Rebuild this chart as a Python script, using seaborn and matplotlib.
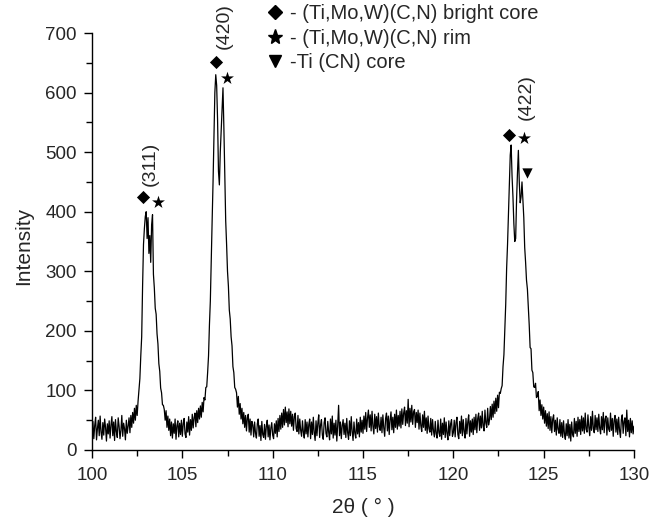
import numpy as np
import pandas as pd
import matplotlib
matplotlib.use("Agg")
import matplotlib.pyplot as plt
from matplotlib.lines import Line2D
from matplotlib.ticker import MultipleLocator
import seaborn as sns

# --- XRD pattern, 2theta from 100 to 130 deg, step 0.05 ---
two_theta = np.round(np.arange(100.0, 130.0001, 0.05), 2)

intensity = [
    # 100-101
    22, 48, 19, 41, 55, 17, 36, 50, 24, 57, 30, 18, 46, 25, 52, 38, 15, 44, 27, 49,
    # 101-102
    20, 42, 56, 24, 47, 16, 51, 31, 21, 54, 40, 19, 33, 58, 23, 45, 36, 17, 50, 28,
    # 102-103  (311)
    40, 54, 29, 58, 38, 63, 45, 70, 50, 75, 58, 82, 100, 120, 158, 190, 275, 345, 372, 392,
    # 103-104
    400, 355, 390, 330, 360, 315, 378, 395, 295, 272, 238, 228, 195, 178, 145, 132, 104, 96, 76, 75,
    # 104-105
    68, 50, 66, 38, 57, 33, 52, 24, 47, 20, 44, 28, 52, 18, 41, 49, 22, 45, 26, 50,
    # 105-106
    23, 44, 53, 27, 21, 47, 30, 56, 25, 51, 33, 60, 37, 54, 62, 39, 66, 46, 70, 52,
    # 106-107  (420)
    74, 55, 80, 64, 88, 84, 105, 106, 130, 158, 210, 250, 320, 385, 450, 525, 600, 630, 612, 555,
    # 107-108
    468, 445, 500, 535, 570, 608, 540, 460, 385, 345, 300, 275, 235, 220, 190, 175, 140, 130, 105, 102,
    # 108-109
    96, 72, 90, 60, 78, 52, 70, 44, 63, 38, 58, 32, 54, 60, 30, 52, 25, 48, 42, 22,
    # 109-110
    47, 28, 20, 44, 52, 23, 41, 16, 48, 26, 21, 43, 18, 40, 50, 22, 42, 17, 37, 46,
    # 110-111
    25, 19, 44, 28, 49, 22, 53, 31, 58, 35, 62, 38, 68, 42, 72, 46, 64, 39, 69, 44,
    # 111-112
    65, 40, 60, 33, 56, 62, 36, 31, 58, 27, 52, 33, 23, 49, 30, 20, 51, 27, 47, 22,
    # 112-113
    43, 52, 19, 47, 26, 55, 29, 16, 49, 24, 45, 59, 21, 42, 51, 25, 18, 46, 54, 28,
    # 113-114
    22, 48, 30, 17, 52, 27, 57, 20, 45, 25, 50, 15, 42, 75, 24, 47, 19, 41, 51, 26,
    # 114-115
    45, 21, 53, 29, 18, 49, 24, 56, 31, 16, 47, 28, 20, 52, 27, 46, 22, 55, 30, 50,
    # 115-116
    28, 57, 35, 63, 31, 54, 67, 38, 59, 32, 65, 40, 27, 60, 36, 56, 30, 62, 39, 33,
    # 116-117
    55, 29, 59, 37, 23, 53, 62, 32, 57, 26, 51, 64, 34, 55, 29, 60, 38, 67, 35, 58,
    # 117-118
    40, 65, 37, 69, 43, 62, 72, 41, 66, 45, 85, 39, 70, 47, 75, 43, 64, 68, 38, 63,
    # 118-119
    46, 67, 35, 62, 41, 31, 59, 38, 65, 33, 54, 28, 57, 36, 30, 53, 25, 51, 32, 22,
    # 119-120
    48, 27, 20, 50, 29, 23, 52, 18, 45, 26, 54, 21, 47, 28, 17, 49, 24, 44, 51, 23,
    # 120-121
    29, 50, 22, 46, 55, 26, 19, 48, 28, 57, 24, 51, 31, 20, 53, 27, 47, 59, 23, 49,
    # 121-122
    30, 52, 26, 55, 34, 60, 29, 53, 62, 33, 57, 37, 65, 40, 32, 67, 45, 38, 70, 42,
    # 122-123  (422)
    50, 73, 51, 77, 55, 82, 61, 87, 65, 92, 71, 97, 95, 103, 108, 140, 160, 205, 245, 305,
    # 123-124
    345, 395, 440, 495, 512, 460, 425, 380, 350, 355, 420, 465, 503, 450, 415, 425, 450, 420, 390, 340,
    # 124-125
    315, 285, 270, 240, 210, 172, 170, 134, 130, 106, 105, 112, 88, 90, 98, 66, 84, 58, 76, 52,
    # 125-126
    72, 45, 66, 40, 61, 36, 64, 33, 56, 29, 52, 59, 31, 50, 25, 54, 35, 28, 51, 23,
    # 126-127
    46, 21, 49, 27, 18, 44, 24, 51, 20, 43, 15, 47, 26, 22, 53, 28, 48, 23, 55, 31,
    # 127-128
    51, 26, 57, 32, 54, 28, 62, 35, 30, 59, 38, 24, 56, 33, 65, 36, 29, 58, 34, 54,
    # 128-129
    31, 60, 37, 27, 56, 34, 63, 29, 52, 57, 25, 54, 35, 31, 62, 33, 53, 23, 50, 58,
    # 129-130
    30, 52, 26, 55, 33, 21, 51, 59, 28, 48, 54, 24, 67, 31, 50, 22, 53, 29, 49, 27,
    40,
]
assert len(intensity) == len(two_theta), (len(intensity), len(two_theta))

# peak phase markers
diamond_x = [102.82, 106.88, 123.10]
diamond_y = [424, 651, 528]
star_x = [103.66, 107.46, 123.90]
star_y = [417, 625, 523]
tri_x = [124.05]
tri_y = [465]

# reflection labels
hkl_labels = ["(311)", "(420)", "(422)"]
hkl_x = [103.2, 107.3, 124.05]
hkl_y = [480, 712, 592]

legend_labels = [
    "- (Ti,Mo,W)(C,N) bright core",
    "- (Ti,Mo,W)(C,N) rim",
    "-Ti (CN) core",
]

df = pd.DataFrame({"two_theta": two_theta, "intensity": intensity})

sns.set_style("ticks")
plt.rcParams["font.family"] = ["Liberation Sans", "DejaVu Sans"]

fig = plt.figure(figsize=(6.51, 5.19), dpi=100)
ax = fig.add_axes([92 / 651, 69 / 519, 542 / 651, 417 / 519])

sns.lineplot(data=df, x="two_theta", y="intensity", estimator=None,
             color="black", linewidth=0.9, ax=ax)

ax.scatter(diamond_x, diamond_y, marker="D", s=45, color="black", lw=0, zorder=3)
ax.scatter(star_x, star_y, marker="*", s=95, color="black", lw=0, zorder=3)
ax.scatter(tri_x, tri_y, marker="v", s=55, color="black", lw=0, zorder=3)

for lab, x, y in zip(hkl_labels, hkl_x, hkl_y):
    ax.text(x, y, lab, rotation=90, ha="center", va="center", fontsize=14)

handles = [
    Line2D([], [], ls="", marker="D", markersize=7, color="black"),
    Line2D([], [], ls="", marker="*", markersize=11, color="black"),
    Line2D([], [], ls="", marker="v", markersize=8, color="black"),
]
ax.legend(handles, legend_labels, loc="upper left", frameon=False,
          bbox_to_anchor=(267 / 651, 1 - 4 / 519), bbox_transform=fig.transFigure,
          fontsize=14.5, handlelength=0.8, handletextpad=0.35, labelspacing=0.28,
          borderpad=0, borderaxespad=0)

ax.set_xlim(100, 130)
ax.set_ylim(0, 700)
ax.xaxis.set_major_locator(MultipleLocator(5))
ax.xaxis.set_minor_locator(MultipleLocator(2.5))
ax.yaxis.set_major_locator(MultipleLocator(100))
ax.yaxis.set_minor_locator(MultipleLocator(50))
ax.tick_params(which="major", length=6, width=1, labelsize=13.5, color="black")
ax.tick_params(which="minor", length=4, width=1, color="black")
ax.tick_params(axis="x", which="major", pad=6)
ax.tick_params(axis="y", which="major", pad=5)
for s in ["left", "bottom"]:
    ax.spines[s].set_linewidth(1)
    ax.spines[s].set_color("black")
sns.despine(ax=ax)

ax.set_xlabel("2θ ( ° )", fontsize=15)
ax.set_ylabel("Intensity", fontsize=15)
ax.yaxis.set_label_coords(-0.108, 0.49)
ax.xaxis.set_label_coords(0.5, -0.115)

plt.savefig("out.png", dpi=100)
